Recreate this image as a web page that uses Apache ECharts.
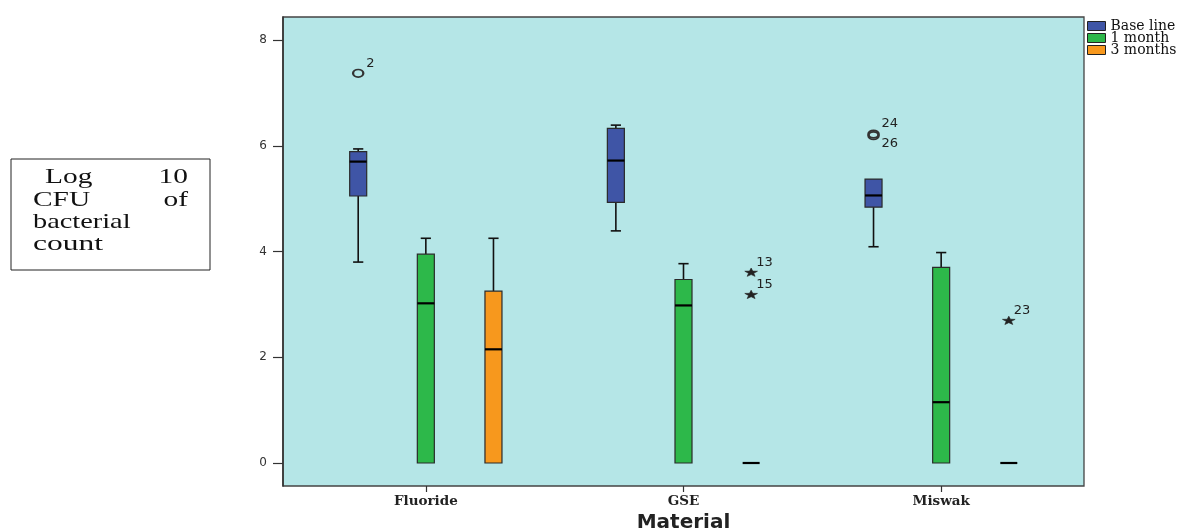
<!DOCTYPE html>
<html><head><meta charset="utf-8">
<script src="https://cdn.jsdelivr.net/npm/echarts@6/dist/echarts.min.js"></script>
<style>html,body{margin:0;padding:0;background:#fff}#c{width:1193px;height:532px}</style>
</head><body><div id="c"></div>
<script>
// ---- data ----
const categories = ['Fluoride', 'GSE', 'Miswak'];
const seriesNames = ['Base line', '1 month', '3 months'];
// each box: [min, Q1, median, Q3, max]
const baseLine    = [[3.80, 5.05, 5.70, 5.89, 5.94], [4.39, 4.93, 5.72, 6.33, 6.39], [4.09, 4.84, 5.06, 5.37, 5.37]];
const oneMonth    = [[0, 0, 3.02, 3.95, 4.25], [0, 0, 2.98, 3.47, 3.77], [0, 0, 1.15, 3.70, 3.98]];
const threeMonths = [[0, 0, 2.15, 3.25, 4.25], [0, 0, 0, 0, 0], [0, 0, 0, 0, 0]];
// outliers
const outlierCats   = [0, 1, 1, 2, 2, 2];
const outlierSeries = [0, 2, 2, 0, 0, 2];
const outlierValues = [7.37, 3.60, 3.18, 6.22, 6.19, 2.69];
const outlierLabels = ['2', '13', '15', '24', '26', '23'];
const outlierKinds  = ['circle', 'star', 'star', 'circle', 'circle', 'star'];
const yTicks = [0, 2, 4, 6, 8];

// ---- styles ----
const colors = ['#3f55a6', '#2db84a', '#f7981d'];
const OFFS = [-0.2625, 0, 0.2625];   // fraction of band width
const BOXW = 0.066;                 // fraction of band width
const labelBelow = { '26': true };

function boxRender(si) {
  return function (params, api) {
    const cat = api.value(0);
    const band = api.size([1, 0])[0];
    const cx = api.coord([cat, 0])[0] + band * OFFS[si];
    const hw = band * BOXW / 2, cw = hw * 0.6;
    const y = i => api.coord([cat, api.value(i)])[1];
    const yMin = y(1), yQ1 = y(2), yMed = y(3), yQ3 = y(4), yMax = y(5);
    const ls = { stroke: '#111', lineWidth: 1.6 };
    const ch = [];
    if (yQ3 - yMax > 0.5) {
      ch.push({ type: 'line', shape: { x1: cx, y1: yMax, x2: cx, y2: yQ3 }, style: ls });
      ch.push({ type: 'line', shape: { x1: cx - cw, y1: yMax, x2: cx + cw, y2: yMax }, style: ls });
    }
    if (yMin - yQ1 > 0.5) {
      ch.push({ type: 'line', shape: { x1: cx, y1: yQ1, x2: cx, y2: yMin }, style: ls });
      ch.push({ type: 'line', shape: { x1: cx - cw, y1: yMin, x2: cx + cw, y2: yMin }, style: ls });
    }
    if (yQ1 - yQ3 > 0.5) {
      ch.push({ type: 'rect', shape: { x: cx - hw, y: yQ3, width: 2 * hw, height: yQ1 - yQ3 },
        style: { fill: colors[si], stroke: '#2a2a2a', lineWidth: 1.2 } });
    }
    ch.push({ type: 'line', shape: { x1: cx - hw, y1: yMed, x2: cx + hw, y2: yMed },
      style: { stroke: '#000', lineWidth: 2.2 } });
    return { type: 'group', children: ch };
  };
}

function starPoints(R, r) {
  const pts = [];
  for (let k = 0; k < 10; k++) {
    const a = -Math.PI / 2 + k * Math.PI / 5;
    const rr = k % 2 === 0 ? R : r;
    pts.push([rr * Math.cos(a), rr * Math.sin(a)]);
  }
  return pts;
}

function outlierRender(params, api) {
  const cat = api.value(0);
  const si = api.value(2);
  const idx = api.value(3);
  const band = api.size([1, 0])[0];
  const p = api.coord([cat, api.value(1)]);
  const px = p[0] + band * OFFS[si], py = p[1];
  const kind = outlierKinds[idx];
  const lab = outlierLabels[idx];
  const ch = [];
  if (kind === 'circle') {
    ch.push({ type: 'circle', x: px, y: py, scaleX: 1.35, shape: { cx: 0, cy: 0, r: 3.8 },
      style: { fill: 'none', stroke: '#333', lineWidth: 1.7 } });
  } else {
    ch.push({ type: 'polygon', x: px, y: py, scaleX: 1.45, shape: { points: starPoints(4.6, 1.9) },
      style: { fill: '#222', stroke: '#222', lineWidth: 0.5 } });
  }
  const dx = kind === 'circle' ? 8 : 5;
  const dy = labelBelow[lab] ? 8 : -10;
  ch.push({ type: 'text', x: px + dx, y: py + dy,
    style: { text: lab, fill: '#222', fontSize: 13, fontFamily: 'DejaVu Sans', align: 'left', verticalAlign: 'middle' } });
  return { type: 'group', children: ch };
}

const boxSets = [baseLine, oneMonth, threeMonths];
const series = boxSets.map((set, si) => ({
  type: 'custom',
  name: seriesNames[si],
  renderItem: boxRender(si),
  itemStyle: { color: colors[si] },
  encode: { x: 0, y: [1, 2, 3, 4, 5] },
  data: set.map((d, i) => [i].concat(d)),
  z: 3
}));
series.push({
  type: 'custom',
  name: 'outliers',
  renderItem: outlierRender,
  encode: { x: 0, y: 1 },
  data: outlierCats.map((c, i) => [c, outlierValues[i], outlierSeries[i], i]),
  z: 4
});

const chart = echarts.init(document.getElementById('c'), null, { renderer: 'canvas' });
chart.setOption({
  animation: false,
  color: colors,
  grid: { left: 297, right: 123, top: 17, bottom: 46, containLabel: false, outerBoundsMode: 'none' },
  xAxis: {
    type: 'category',
    data: categories,
    axisLine: { show: false, onZero: false },
    axisTick: { show: true, alignWithLabel: true, length: 6, lineStyle: { color: '#333', width: 1.2 } },
    axisLabel: { margin: 8, fontFamily: 'DejaVu Serif', fontSize: 13.5, fontWeight: 'bold', color: '#222' },
    splitLine: { show: false },
    name: 'Material',
    nameLocation: 'middle',
    nameGap: 26,
    nameTextStyle: { fontFamily: 'DejaVu Sans', fontWeight: 'bold', fontSize: 20, color: '#222' }
  },
  yAxis: {
    type: 'value',
    min: -0.435, max: 8.435,
    offset: 14,
    axisLine: { show: true, lineStyle: { color: '#333', width: 1.6 } },
    axisTick: { show: true, customValues: yTicks, length: 10, lineStyle: { color: '#333', width: 1.2 } },
    axisLabel: { customValues: yTicks, margin: 16, fontFamily: 'DejaVu Sans', fontSize: 12, color: '#333' },
    splitLine: { show: false }
  },
  legend: {
    data: seriesNames,
    orient: 'vertical',
    left: 1087, top: 19,
    padding: 0,
    itemWidth: 18, itemHeight: 9, itemGap: -2,
    icon: 'rect',
    selectedMode: false,
    itemStyle: { borderColor: '#222', borderWidth: 1 },
    textStyle: { fontFamily: 'DejaVu Serif', fontSize: 14, color: '#111' }
  },
  graphic: [
    { type: 'rect', z: -10, silent: true, shape: { x: 283, y: 17, width: 801, height: 469 },
      style: { fill: '#b5e6e7', stroke: '#444', lineWidth: 1.3 } },
    { type: 'group', silent: true, children: [
      { type: 'rect', shape: { x: 11, y: 159, width: 199, height: 111 }, style: { fill: '#fff', stroke: '#222', lineWidth: 1 } },
      { type: 'text', x: 45, y: 177, scaleX: 1.4, style: { text: 'Log', fontFamily: 'Liberation Serif', fontSize: 21, fill: '#111', align: 'left', verticalAlign: 'middle' } },
      { type: 'text', x: 188, y: 177, scaleX: 1.4, style: { text: '10', fontFamily: 'Liberation Serif', fontSize: 21, fill: '#111', align: 'right', verticalAlign: 'middle' } },
      { type: 'text', x: 33, y: 200, scaleX: 1.4, style: { text: 'CFU', fontFamily: 'Liberation Serif', fontSize: 21, fill: '#111', align: 'left', verticalAlign: 'middle' } },
      { type: 'text', x: 188, y: 200, scaleX: 1.4, style: { text: 'of', fontFamily: 'Liberation Serif', fontSize: 21, fill: '#111', align: 'right', verticalAlign: 'middle' } },
      { type: 'text', x: 33, y: 222, scaleX: 1.35, style: { text: 'bacterial', fontFamily: 'Liberation Serif', fontSize: 21, fill: '#111', align: 'left', verticalAlign: 'middle' } },
      { type: 'text', x: 33, y: 244, scaleX: 1.5, style: { text: 'count', fontFamily: 'Liberation Serif', fontSize: 21, fill: '#111', align: 'left', verticalAlign: 'middle' } }
    ] }
  ],
  series: series
});
</script>
</body></html>
